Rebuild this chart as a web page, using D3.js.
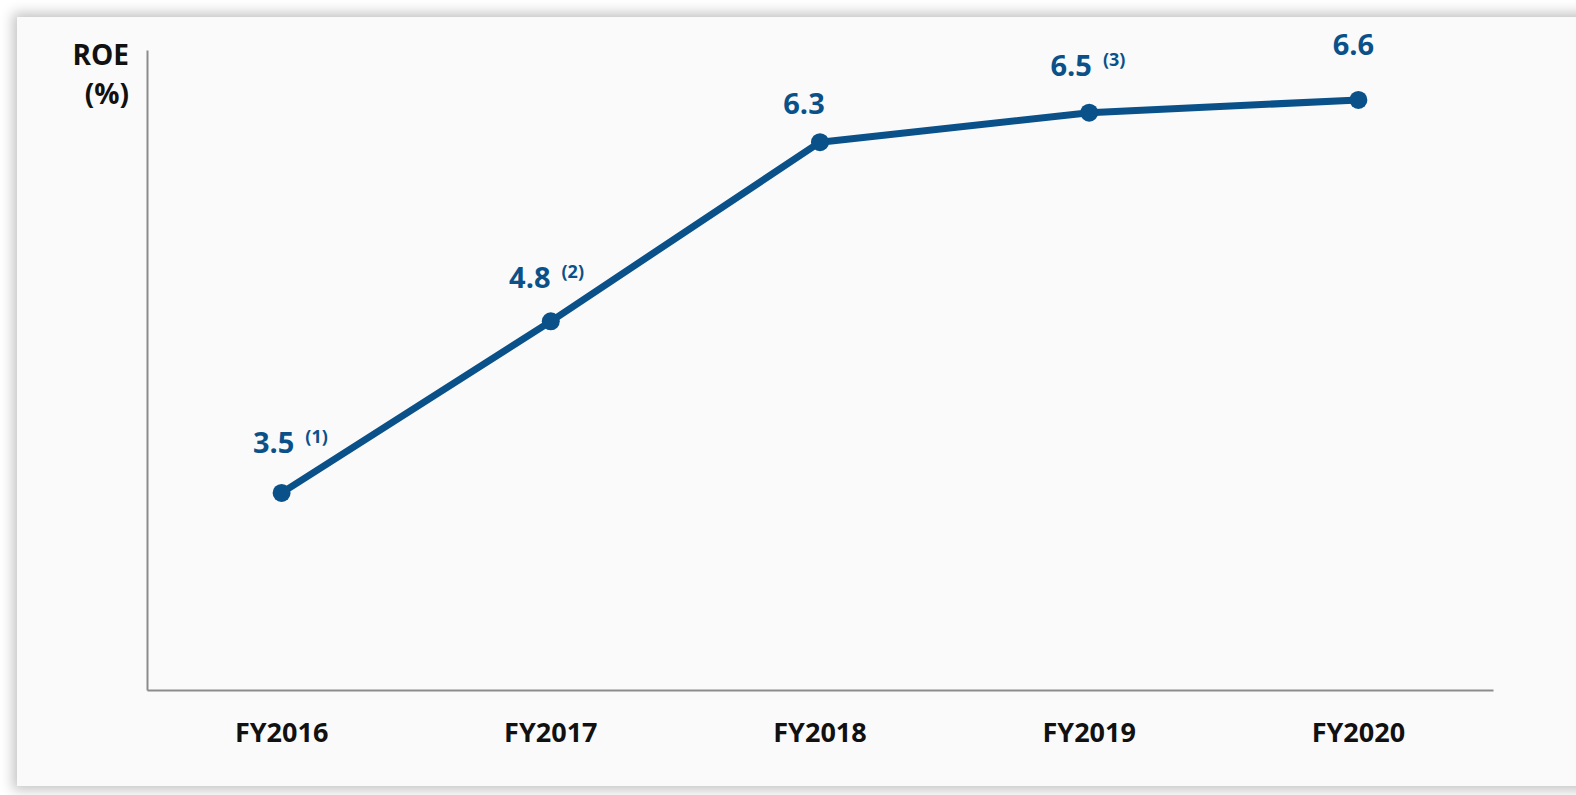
<!DOCTYPE html>
<html>
<head>
<meta charset="utf-8">
<script src="https://cdn.jsdelivr.net/npm/d3@7"></script>
<style>
  html, body { margin: 0; padding: 0; background: #ffffff; overflow: hidden; }
  #card {
    position: absolute; left: 17px; top: 17px; width: 1580px; height: 769px;
    background: #fafafa; box-shadow: 0 0 12px 4px rgba(0,0,0,0.24);
  }
  svg { position: absolute; left: 0; top: 0; }
  text { font-family: "Open Sans", "DejaVu Sans", sans-serif; font-weight: 700; }
</style>
</head>
<body>
<div id="card"></div>
<svg id="chart" width="1576" height="795"></svg>
<script>
// data
var years = ["FY2016", "FY2017", "FY2018", "FY2019", "FY2020"];
var roe = [3.54, 4.88, 6.28, 6.51, 6.61];
var roeLabels = ["3.5", "4.8", "6.3", "6.5", "6.6"];
var footnotes = ["(1)", "(2)", "", "(3)", ""];

// label nudges (layout only)
var nudgeX = [-8, -21, -16, -18, -5];
var nudgeY = [-40, -33, -28, -37, -45];

const blue = "#0a5189";
const plotLeft = 147, plotRight = 1493, plotTop = 50, plotBottom = 690;

var svg = d3.select("#chart");

var x = d3.scaleBand()
    .domain(years)
    .range([plotLeft, plotRight]);

var y = d3.scaleLinear()
    .domain([2, 7])
    .range([plotBottom, plotTop]);

function cx(i) { return x(years[i]) + x.bandwidth() / 2; }

// y axis (just the line)
svg.append("g")
    .attr("transform", "translate(" + plotLeft + ",0)")
    .call(d3.axisLeft(y).ticks(0).tickSizeOuter(0))
    .call(g => g.selectAll(".tick").remove())
    .call(g => g.select(".domain").attr("stroke", "#8c8c8c").attr("stroke-width", 2));

// x axis
svg.append("g")
    .attr("transform", "translate(0," + plotBottom + ")")
    .call(d3.axisBottom(x).tickSize(0).tickSizeOuter(0).tickPadding(33))
    .call(g => g.select(".domain").attr("stroke", "#8c8c8c").attr("stroke-width", 2))
    .call(g => g.selectAll("text")
        .style("font-family", "'Open Sans', sans-serif")
        .style("font-weight", 700)
        .style("font-size", "27px")
        .attr("fill", "#111"));

// axis title
var t = svg.append("text")
    .attr("text-anchor", "end")
    .attr("font-size", 28)
    .attr("fill", "#111");
t.append("tspan").attr("x", 129).attr("y", 65).text("ROE");
t.append("tspan").attr("x", 129).attr("y", 104).text("(%)");

// the line
var line = d3.line()
    .x(function (d, i) { return cx(i); })
    .y(function (d) { return y(d); });

svg.append("path")
    .datum(roe)
    .attr("fill", "none")
    .attr("stroke", blue)
    .attr("stroke-width", 7)
    .attr("stroke-linejoin", "round")
    .attr("d", line);

svg.selectAll("circle.dot")
    .data(roe)
    .enter().append("circle")
    .attr("class", "dot")
    .attr("cx", function (d, i) { return cx(i); })
    .attr("cy", function (d) { return y(d); })
    .attr("r", 9)
    .attr("fill", blue);

// value labels with footnote marks
var lab = svg.selectAll("text.val")
    .data(roe)
    .enter().append("text")
    .attr("class", "val")
    .attr("fill", blue)
    .attr("y", function (d, i) { return y(d) + nudgeY[i]; })
    .attr("x", function (d, i) { return cx(i) + nudgeX[i]; })
    .attr("text-anchor", "middle")
    .attr("font-size", 29)
    .text(function (d, i) { return roeLabels[i]; });

lab.each(function (d, i) {
    if (!footnotes[i]) return;
    var bb = this.getBBox();
    svg.append("text")
        .attr("fill", blue)
        .attr("font-size", 18)
        .attr("x", bb.x + bb.width + 11)
        .attr("y", y(d) + nudgeY[i] - 10)
        .text(footnotes[i]);
});
</script>
</body>
</html>
